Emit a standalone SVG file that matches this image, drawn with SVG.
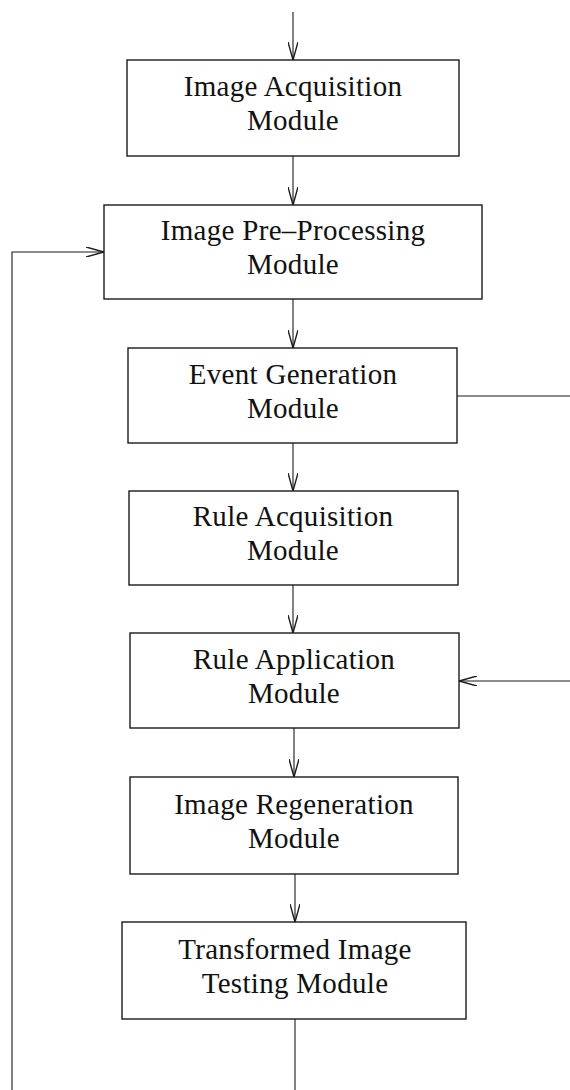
<svg xmlns="http://www.w3.org/2000/svg" width="570" height="1090" viewBox="0 0 570 1090">
  <style>
    .box { fill: #ffffff; stroke: #1a1a1a; stroke-width: 1.4; }
    .lbl { font-family: "Liberation Serif", "Times New Roman", serif; font-size: 29px; letter-spacing: 0.3px; fill: #111111; text-anchor: middle; }
    .wire { fill: none; stroke: #1a1a1a; stroke-width: 1.1; }
    .arrow { marker-end: url(#head); }
  </style>
  <defs>
    <marker id="head" viewBox="0 0 18 10" refX="18" refY="5" markerWidth="18" markerHeight="10" markerUnits="userSpaceOnUse" orient="auto">
      <path d="M0,0 L18,5 L0,10" fill="none" stroke="#1a1a1a" stroke-width="1.4"/>
    </marker>
  </defs>

  <rect width="570" height="1090" fill="#ffffff"/>

  <g id="connectors">
    <!-- main downward flow -->
    <line class="wire arrow" x1="293" y1="12" x2="293" y2="60"/>
    <line class="wire arrow" x1="293" y1="156" x2="293" y2="205"/>
    <line class="wire arrow" x1="293" y1="299" x2="293" y2="348"/>
    <line class="wire arrow" x1="293" y1="443" x2="293" y2="491"/>
    <line class="wire arrow" x1="293" y1="585" x2="293" y2="633"/>
    <line class="wire arrow" x1="294" y1="728" x2="294" y2="777"/>
    <line class="wire arrow" x1="295" y1="874" x2="295" y2="922"/>
    <!-- exit below the testing module -->
    <line class="wire" x1="295" y1="1019" x2="295" y2="1090"/>
    <!-- feedback loop back into pre-processing -->
    <polyline class="wire arrow" points="12,1090 12,252 104,252"/>
    <!-- side lines at the right edge -->
    <line class="wire" x1="457" y1="396" x2="570" y2="396"/>
    <line class="wire arrow" x1="570" y1="681" x2="459" y2="681"/>
  </g>

  <g id="image-acquisition">
    <rect class="box" x="127" y="60" width="332" height="96"/>
    <text class="lbl" x="293" y="96">Image Acquisition</text>
    <text class="lbl" x="293" y="130">Module</text>
  </g>

  <g id="image-pre-processing">
    <rect class="box" x="104" y="205" width="378" height="94"/>
    <text class="lbl" x="293" y="240">Image Pre–Processing</text>
    <text class="lbl" x="293" y="274">Module</text>
  </g>

  <g id="event-generation">
    <rect class="box" x="128" y="348" width="329" height="95"/>
    <text class="lbl" x="293" y="384">Event Generation</text>
    <text class="lbl" x="293" y="418">Module</text>
  </g>

  <g id="rule-acquisition">
    <rect class="box" x="129" y="491" width="329" height="94"/>
    <text class="lbl" x="293" y="526">Rule Acquisition</text>
    <text class="lbl" x="293" y="560">Module</text>
  </g>

  <g id="rule-application">
    <rect class="box" x="130" y="633" width="329" height="95"/>
    <text class="lbl" x="294" y="669">Rule Application</text>
    <text class="lbl" x="294" y="703">Module</text>
  </g>

  <g id="image-regeneration">
    <rect class="box" x="130" y="777" width="328" height="97"/>
    <text class="lbl" x="294" y="814">Image Regeneration</text>
    <text class="lbl" x="294" y="848">Module</text>
  </g>

  <g id="transformed-image-testing">
    <rect class="box" x="122" y="922" width="344" height="97"/>
    <text class="lbl" x="295" y="959">Transformed Image</text>
    <text class="lbl" x="295" y="993">Testing Module</text>
  </g>
</svg>
